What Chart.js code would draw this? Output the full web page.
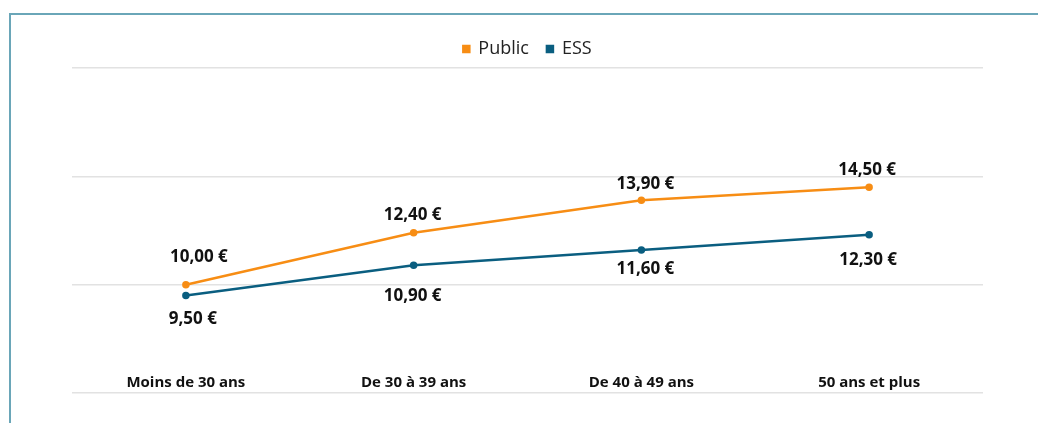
<!DOCTYPE html>
<html>
<head>
<meta charset="utf-8">
<script src="https://cdn.jsdelivr.net/npm/chart.js@4/dist/chart.umd.min.js"></script>
<style>
  html, body { margin: 0; padding: 0; background: #fff; }
  #wrap { position: relative; width: 1038px; height: 423px; }
  #frame { position: absolute; left: 9px; top: 13px; right: 0; bottom: 0;
           border-left: 2px solid #6aa6b8; border-top: 2px solid #6aa6b8; }
  canvas { position: absolute; left: 0; top: 0; }
</style>
</head>
<body>
<div id="wrap">
  <div id="frame"></div>
  <canvas id="salaryChart" width="1038" height="423"></canvas>
</div>
<script>
// Données
var categories = ['Moins de 30 ans', 'De 30 à 39 ans', 'De 40 à 49 ans', '50 ans et plus'];
var publicValues = [10.00, 12.40, 13.90, 14.50];
var essValues = [9.50, 10.90, 11.60, 12.30];
var yTicks = [5, 10, 15, 20];

var orange = 'rgb(247, 141, 20)';
var blue = 'rgb(10, 94, 128)';

function euro(v) {
    return v.toFixed(2).replace('.', ',') + ' €';
}

// label placement relative to each point (px), per dataset
var labelShift = [
    [[13, -28], [-1, -18], [4, -16], [-2, -17]],
    [[7, 24], [-1, 31], [4, 19], [-1, 25]]
];

var valueLabels = {
    id: 'valueLabels',
    afterDatasetsDraw: function (chart) {
        var ctx = chart.ctx;
        ctx.save();
        ctx.font = 'bold 17px "Open Sans"';
        ctx.fillStyle = '#111';
        ctx.textAlign = 'center';
        ctx.textBaseline = 'middle';
        chart.data.datasets.forEach(function (ds, i) {
            var meta = chart.getDatasetMeta(i);
            meta.data.forEach(function (pt, j) {
                var s = labelShift[i][j];
                ctx.fillText(euro(ds.data[j]), pt.x + s[0], pt.y + s[1]);
            });
        });
        ctx.restore();
    }
};

var salaryChart = new Chart(document.getElementById('salaryChart').getContext('2d'), {
    type: 'line',
    data: {
        labels: categories,
        datasets: [{
            label: 'Public',
            data: publicValues,
            borderColor: orange,
            backgroundColor: orange,
            borderWidth: 2.5,
            pointRadius: 2.5,
            pointHoverRadius: 2.5,
            tension: 0
        }, {
            label: 'ESS',
            data: essValues,
            borderColor: blue,
            backgroundColor: blue,
            borderWidth: 2.5,
            pointRadius: 2.5,
            pointHoverRadius: 2.5,
            tension: 0
        }]
    },
    plugins: [valueLabels],
    options: {
        responsive: false,
        animation: false,
        layout: { padding: { left: 72, right: 55, top: 22, bottom: 30 } },
        plugins: {
            legend: {
                position: 'top',
                labels: {
                    usePointStyle: true,
                    pointStyle: 'rect',
                    boxWidth: 6,
                    boxHeight: 6,
                    padding: 18,
                    color: '#222',
                    font: { family: 'Open Sans', size: 18 }
                }
            },
            tooltip: { enabled: false }
        },
        scales: {
            x: {
                offset: true,
                grid: { display: false },
                border: { display: false },
                ticks: {
                    padding: -27,
                    color: '#111',
                    font: { family: 'Open Sans', size: 15, weight: 'bold' }
                }
            },
            y: {
                min: 5,
                max: 20,
                afterBuildTicks: function (axis) {
                    axis.ticks = yTicks.map(function (v) { return { value: v }; });
                },
                grid: { color: '#e2e2e2', lineWidth: 1.5, drawTicks: false },
                border: { display: false },
                ticks: { display: false }
            }
        }
    }
});
</script>
</body>
</html>
